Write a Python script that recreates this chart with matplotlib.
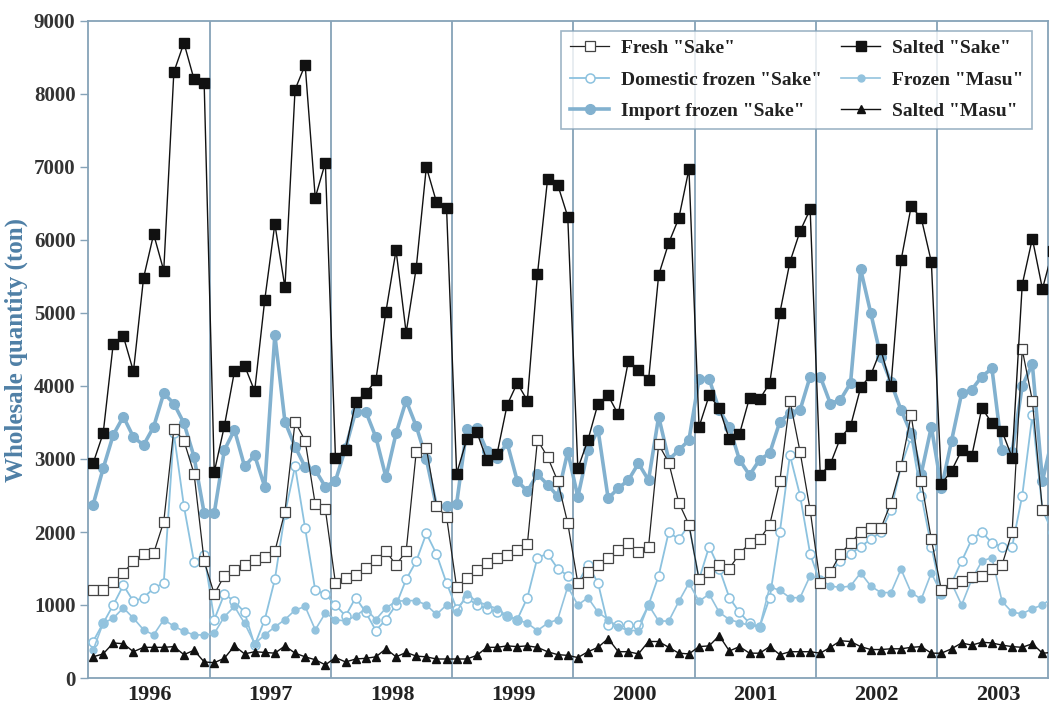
import matplotlib
matplotlib.use('Agg')
import matplotlib.pyplot as plt
import numpy as np

# ---------------- data (monthly, Jan 1996 - Dec 2003) ----------------
years = ['1996', '1997', '1998', '1999', '2000', '2001', '2002', '2003']

fresh_sake = [
    1200, 1210, 1320, 1440, 1600, 1700, 1710, 2140, 3410, 3250, 2800, 1600,
    1150, 1400, 1480, 1550, 1620, 1660, 1735, 2280, 3510, 3250, 2380, 2310,
    1300, 1370, 1415, 1510, 1620, 1735, 1550, 1735, 3100, 3150, 2350, 2210,
    1240, 1370, 1480, 1570, 1640, 1690, 1760, 1830, 3260, 3030, 2700, 2120,
    1300, 1450, 1550, 1650, 1750, 1850, 1730, 1800, 3200, 2950, 2400, 2100,
    1350, 1450, 1550, 1500, 1700, 1850, 1900, 2100, 2700, 3800, 3100, 2300,
    1300, 1450, 1700, 1850, 2000, 2050, 2050, 2400, 2900, 3600, 2700, 1900,
    1200, 1300, 1330, 1380, 1400, 1500, 1550, 2000, 4500, 3800, 2300, 2300,
]

domestic_frozen_sake = [
    500, 750, 1000, 1270, 1050, 1100, 1230, 1300, 3350, 2350, 1590, 1690,
    800, 1150, 1050, 900, 450, 800, 1350, 2250, 2900, 2050, 1200, 1150,
    1000, 850, 1100, 900, 650, 800, 1000, 1350, 1600, 1980, 1700, 1300,
    950, 1100, 1000, 950, 900, 850, 800, 1100, 1650, 1700, 1500, 1400,
    1300, 1550, 1300, 720, 720, 720, 720, 1000, 1400, 2000, 1900, 2100,
    1350, 1800, 1500, 1100, 900, 750, 700, 1100, 2000, 3050, 2500, 1700,
    1300, 1450, 1600, 1700, 1800, 1900, 2000, 2300, 2900, 3300, 2500, 1800,
    1150, 1300, 1600, 1900, 2000, 1850, 1800, 1800, 2500, 3600, 2300, 2000,
]

import_frozen_sake = [
    2370, 2870, 3330, 3580, 3300, 3190, 3440, 3900, 3760, 3490, 3030, 2260,
    2260, 3120, 3400, 2900, 3050, 2620, 4700, 3510, 3170, 2890, 2850, 2620,
    2700, 3150, 3650, 3650, 3300, 2750, 3350, 3800, 3450, 3000, 2350, 2350,
    2390, 3410, 3430, 3110, 3020, 3220, 2700, 2560, 2790, 2650, 2490, 3100,
    2480, 3120, 3400, 2460, 2600, 2710, 2940, 2710, 3580, 2990, 3120, 3260,
    4100, 4100, 3670, 3440, 2990, 2780, 2990, 3080, 3510, 3630, 3670, 4130,
    4130, 3760, 3810, 4040, 5600, 5000, 4400, 4050, 3670, 3350, 2800, 3440,
    2600, 3250, 3900, 3950, 4130, 4240, 3120, 3100, 4000, 4300, 2700, 3300,
]

salted_sake = [
    2940, 3350, 4580, 4680, 4200, 5480, 6080, 5580, 8300, 8700, 8200, 8150,
    2820, 3450, 4200, 4280, 3930, 5180, 6220, 5350, 8060, 8400, 6580, 7060,
    3020, 3130, 3780, 3900, 4080, 5020, 5860, 4730, 5620, 7000, 6520, 6440,
    2800, 3270, 3370, 2980, 3070, 3740, 4040, 3800, 5530, 6830, 6760, 6320,
    2870, 3260, 3760, 3870, 3610, 4340, 4220, 4080, 5520, 5960, 6300, 6970,
    3440, 3870, 3700, 3270, 3340, 3840, 3820, 4040, 5000, 5700, 6120, 6420,
    2780, 2930, 3290, 3450, 3980, 4150, 4500, 4000, 5720, 6460, 6300, 5700,
    2660, 2840, 3120, 3040, 3700, 3490, 3380, 3020, 5390, 6020, 5330, 5850,
]

frozen_masu = [
    380, 750, 820, 960, 820, 660, 590, 800, 710, 640, 590, 590,
    610, 840, 980, 750, 470, 590, 700, 800, 930, 980, 660, 890,
    800, 780, 850, 950, 800, 960, 1050, 1060, 1060, 1000, 870, 1000,
    900, 1150, 1050, 1000, 950, 850, 800, 750, 650, 750, 800, 1250,
    1000, 1100, 900, 800, 700, 650, 650, 1000, 780, 780, 1050, 1300,
    1050, 1150, 900, 800, 760, 720, 700, 1250, 1200, 1100, 1100, 1400,
    1350, 1260, 1240, 1260, 1440, 1260, 1170, 1170, 1490, 1170, 1080, 1440,
    1150, 1300, 1000, 1350, 1600, 1650, 1050, 900, 880, 950, 1000, 1100,
]

salted_masu = [
    290, 330, 480, 470, 360, 420, 420, 420, 430, 320, 380, 220,
    210, 270, 440, 330, 360, 350, 340, 440, 340, 290, 250, 180,
    280, 220, 260, 270, 290, 400, 290, 350, 300, 290, 260, 260,
    260, 260, 310, 420, 420, 440, 430, 440, 420, 360, 320, 310,
    280, 360, 420, 540, 360, 360, 330, 500, 500, 420, 340, 330,
    430, 440, 580, 370, 430, 340, 340, 430, 320, 360, 360, 360,
    340, 420, 510, 500, 430, 390, 390, 400, 400, 420, 430, 340,
    340, 400, 480, 450, 490, 480, 450, 430, 420, 470, 340, 350,
]

y_ticks = [0, 1000, 2000, 3000, 4000, 5000, 6000, 7000, 8000, 9000]

# ---------------- style ----------------
plt.rcParams['font.family'] = ['Liberation Serif', 'DejaVu Serif']
plt.rcParams['font.weight'] = 'bold'

frame_c = '#86a3b8'
blue_imp = '#82b1cf'
blue_dom = '#8cc2df'
blue_masu = '#93c3de'

fig = plt.figure(figsize=(10.5, 7.08), dpi=100)
ax = fig.add_axes([88 / 1050, 30 / 708, 960 / 1050, 657 / 708])

x = np.arange(len(salted_sake))

ax.plot(x, fresh_sake, color='#222222', lw=0.9, marker='s', ms=7.5,
        mfc='white', mec='#444444', mew=0.9, label='Fresh "Sake"', zorder=4)
ax.plot(x, domestic_frozen_sake, color=blue_dom, lw=1.3, marker='o', ms=6.5,
        mfc='white', mec=blue_dom, mew=1.1, label='Domestic frozen "Sake"', zorder=3)
ax.plot(x, import_frozen_sake, color=blue_imp, lw=2.6, marker='o', ms=7,
        mfc=blue_imp, mec=blue_imp, label='Import frozen "Sake"', zorder=3)
ax.plot(x, salted_sake, color='#111111', lw=1.0, marker='s', ms=7.5,
        mfc='#111111', mec='#111111', label='Salted "Sake"', zorder=5)
ax.plot(x, frozen_masu, color=blue_masu, lw=1.2, marker='o', ms=5,
        mfc=blue_masu, mec=blue_masu, label='Frozen "Masu"', zorder=3)
ax.plot(x, salted_masu, color='#111111', lw=1.0, marker='^', ms=6,
        mfc='#111111', mec='#111111', label='Salted "Masu"', zorder=5)

# year divider lines
for k in range(1, len(years)):
    ax.axvline(12 * k - 0.45, color=frame_c, lw=1.3, zorder=1)

ax.set_xlim(-0.5, 94.55)
ax.set_ylim(0, 9000)

ax.set_xticks([12 * k + 5.6 for k in range(len(years))], labels=years)
ax.tick_params(axis='x', length=0, pad=5, labelsize=16, labelcolor='#222222')
ax.set_yticks(y_ticks)
ax.tick_params(axis='y', direction='out', length=6, width=1.0, color=frame_c,
               labelsize=15, labelcolor='#333333', pad=3)
for lab in ax.get_xticklabels() + ax.get_yticklabels():
    lab.set_fontweight('bold')

for s in ax.spines.values():
    s.set_color(frame_c)
    s.set_linewidth(1.3)

ax.set_ylabel('Wholesale quantity (ton)', fontsize=18, fontweight='bold',
              color='#4f80a6', labelpad=4)

leg = ax.legend(loc='upper right', bbox_to_anchor=(0.9935, 1.0), ncol=2,
                fontsize=14, frameon=True, fancybox=False, edgecolor=frame_c,
                handlelength=2.0, columnspacing=1.0, labelspacing=0.72,
                borderpad=0.45, handletextpad=0.6)
leg.get_frame().set_linewidth(1.2)
for t in leg.get_texts():
    t.set_fontweight('bold')
    t.set_color('#222222')

fig.savefig('out.png', dpi=100, facecolor='white')
